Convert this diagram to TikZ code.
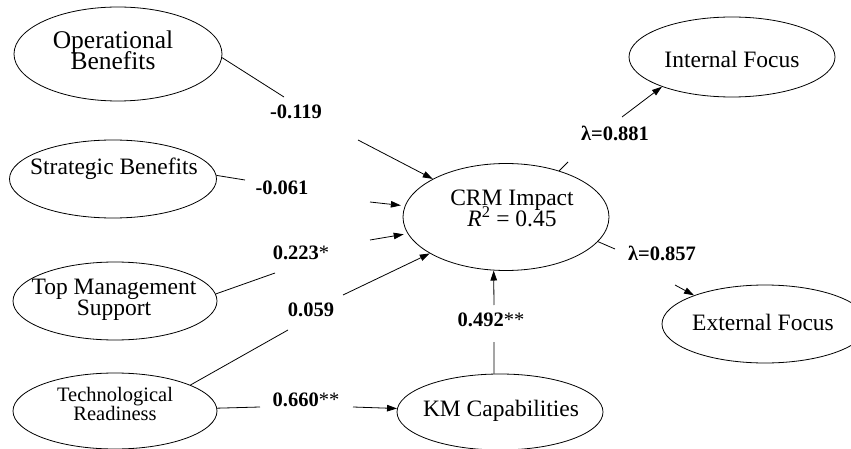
\documentclass[tikz,border=0pt]{standalone}
\usepackage{fontspec}
\setmainfont{Liberation Serif}
\usetikzlibrary{shapes.geometric,arrows.meta}
\begin{document}
\begin{tikzpicture}[x=1pt,y=-1pt,
  lat/.style 2 args={ellipse,draw,line width=0.8pt,minimum width=#1,minimum height=#2,inner sep=0pt},
  txt/.style={align=center,inner sep=0pt,font=\fontsize{23.5}{21}\selectfont},
  btxt/.style={align=center,inner sep=0pt,font=\fontsize{25.5}{21}\selectfont},
  stxt/.style={align=center,inner sep=0pt,font=\fontsize{20.5}{19}\selectfont},
  coef/.style={inner sep=0pt,font=\fontsize{20.5}{22}\selectfont\bfseries},
  ln/.style={line width=0.8pt},
  arr/.style={ln,-{Triangle[length=10pt,width=6.5pt]}}]
\lineskiplimit=-30pt\relax
\useasboundingbox (0,0) rectangle (851,449);
\clip (0,0) rectangle (851,449);

% latent variables
\node[lat={208}{94}] (op) at (118,54) {};
\node[btxt] (opt) at (113,50) {Operational\\Benefits};
\node[lat={207}{78}] (sb) at (113,179) {};
\node[txt] (sbt) at (114,169) {Strategic Benefits};
\node[lat={204}{78}] (tms) at (115,301) {};
\node[txt] (tmst) at (114,300) {Top Management\\Support};
\node[lat={204}{76}] (tr) at (115,411) {};
\node[stxt] (trt) at (115,404) {Technological\\Readiness};
\node[lat={206}{107}] (crm) at (506,217) {};
\node[txt] (crmt) at (512,208) {CRM Impact\\\textit{R}\textsuperscript{2} = 0.45};
\node[lat={206}{80}] (if) at (732,57) {};
\node[txt] (ift) at (732,59) {Internal Focus};
\node[lat={206}{78}] (ef) at (765,324) {};
\node[txt] (eft) at (763,322) {External Focus};
\node[lat={206}{76}] (km) at (500,412) {};
\node[txt] (kmt) at (501,411) {KM Capabilities};

% coefficients
\node[coef] (c1) at (296,112) {-0.119};
\node[coef] (c2) at (282,188) {-0.061};
\node[coef] (c3) at (301,253) {0.223\textmd{*}};
\node[coef] (c4) at (311,310) {0.059};
\node[coef] (c5) at (306,400) {0.660\textmd{**}};
\node[coef] (c6) at (491,320) {0.492\textmd{**}};
\node[coef] (c7) at (615,133) {λ=0.881};
\node[coef] (c8) at (662,253) {λ=0.857};

% gap ends
\coordinate (g1a) at (284,97);  \coordinate (g1b) at (358,140);
\coordinate (g2a) at (245,180); \coordinate (g2b) at (370,202);
\coordinate (g3a) at (275,273); \coordinate (g3b) at (370,240);
\coordinate (g4a) at (288,330); \coordinate (g4b) at (343,295);
\coordinate (g5a) at (260,407); \coordinate (g5b) at (353,407);
\coordinate (g6a) at (494,342); \coordinate (g6b) at (494,305);
\coordinate (g7a) at (568,162); \coordinate (g7b) at (622,117);
\coordinate (g8a) at (615,249); \coordinate (g8b) at (675,285);

% paths
\draw[ln] (op.-2) -- (g1a);  \draw[arr] (g1b) -- (crm);
\draw[ln] (sb.2) -- (g2a);   \draw[arr,shorten >=4pt] (g2b) -- (crm);
\draw[ln] (tms.4) -- (g3a);  \draw[arr,shorten >=4pt] (g3b) -- (crm);
\draw[ln] (tr.19) -- (g4a);  \draw[arr] (g4b) -- (crm);
\draw[ln] (tr) -- (g5a);     \draw[arr] (g5b) -- (km);
\draw[ln] (km.99) -- (g6a);  \draw[arr] (g6b) -- (crm.257);
\draw[ln] (crm.41) -- (g7a); \draw[arr] (g7b) -- (if.203);
\draw[ln] (crm.-15) -- (g8a);\draw[arr] (g8b) -- (ef.158);
\end{tikzpicture}
\end{document}
